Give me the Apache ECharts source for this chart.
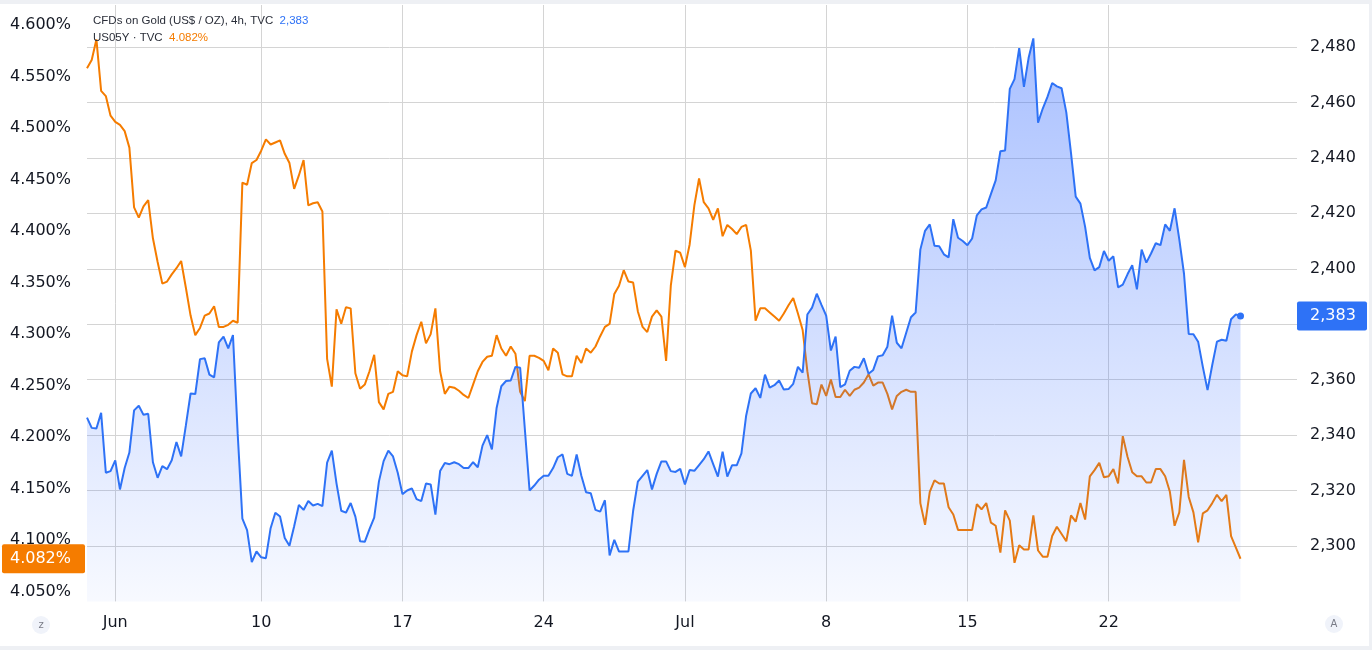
<!DOCTYPE html>
<html lang="en">
<head>
    <meta charset="UTF-8">
    <title>Gold vs US05Y - 4h</title>
    <style>
        html, body { margin: 0; padding: 0; background: #ffffff; }
        #zl_chart_container { width: 1372px; height: 650px; }
    </style>
</head>
<body>
    <div id="zl_chart_container"></div>
</body>
<script src="https://cdn.jsdelivr.net/npm/echarts/dist/echarts.min.js"></script>
<script>
    // 4h bars, index 0 = first bar on the left (Fri 31 May)
    let goldClose = [
        2346.3, 2342.6, 2342.4, 2348.0, 2326.4, 2327.0, 2330.9, 2320.4, 2328.1, 2333.7,
        2348.9, 2350.6, 2347.3, 2347.7, 2330.2, 2324.6, 2328.8, 2327.7, 2330.9, 2337.5,
        2332.3, 2343.5, 2355.0, 2354.8, 2367.4, 2367.7, 2361.8, 2360.8, 2373.4, 2375.5,
        2371.3, 2376.1, 2340.7, 2309.9, 2305.7, 2294.2, 2298.0, 2295.9, 2295.6, 2306.4,
        2312.0, 2310.6, 2302.9, 2300.1, 2307.1, 2314.8, 2313.0, 2316.2, 2314.6, 2315.2,
        2314.4, 2330.1, 2334.4, 2322.5, 2312.7, 2312.0, 2315.5, 2310.6, 2301.7, 2301.5,
        2306.1, 2310.2, 2323.2, 2330.6, 2334.4, 2332.3, 2326.4, 2318.7, 2320.0, 2320.8,
        2316.9, 2316.2, 2322.5, 2322.2, 2311.3, 2327.0, 2329.9, 2329.5, 2330.2, 2329.5,
        2328.1, 2328.1, 2330.2, 2328.4, 2336.2, 2340.0, 2334.8, 2349.8, 2357.6, 2359.5,
        2359.7, 2364.6, 2364.3, 2342.1, 2320.0, 2321.8, 2323.9, 2325.3, 2325.3, 2328.1,
        2332.0, 2333.0, 2326.0, 2325.3, 2333.0, 2325.3, 2319.4, 2319.0, 2313.0, 2312.4,
        2316.5, 2296.6, 2302.2, 2298.0, 2298.0, 2298.0, 2312.7, 2323.2, 2325.3, 2327.4,
        2320.4, 2326.0, 2330.5, 2330.5, 2327.0, 2326.7, 2327.8, 2322.2, 2327.4, 2327.1,
        2329.2, 2331.3, 2334.1, 2329.5, 2325.0, 2334.0, 2325.0, 2329.1, 2329.1, 2333.4,
        2347.0, 2355.0, 2356.9, 2353.4, 2361.8, 2357.1, 2358.0, 2359.7, 2356.4, 2356.6,
        2358.5, 2364.6, 2362.5, 2383.5, 2386.0, 2391.0, 2387.0, 2383.1, 2370.5, 2375.5,
        2357.3, 2358.3, 2363.2, 2364.6, 2364.3, 2367.7, 2362.1, 2363.5, 2368.4, 2368.8,
        2371.9, 2383.1, 2373.3, 2371.3, 2376.9, 2382.5, 2384.2, 2406.9, 2413.7, 2416.0,
        2408.3, 2408.1, 2405.2, 2404.1, 2417.9, 2411.2, 2410.0, 2408.5, 2410.9, 2419.3,
        2421.4, 2422.1, 2427.0, 2431.9, 2442.4, 2442.7, 2464.9, 2468.4, 2479.6, 2465.6,
        2476.1, 2483.1, 2452.7, 2457.8, 2462.0, 2467.0, 2465.8, 2465.1, 2456.4, 2441.7,
        2426.0, 2423.5, 2415.1, 2403.9, 2399.4, 2400.6, 2406.4, 2402.9, 2404.5, 2393.3,
        2394.3, 2398.0, 2401.3, 2392.6, 2406.9, 2402.2, 2405.5, 2409.2, 2408.5, 2416.0,
        2413.7, 2421.8, 2410.6, 2398.2, 2376.5, 2376.4, 2373.7, 2364.6, 2356.2, 2365.3,
        2373.7, 2374.4, 2374.0, 2381.8, 2383.5, 2383.0
    ];

    let us05yClose = [
        4.558, 4.566, 4.586, 4.536, 4.531, 4.512, 4.506, 4.503, 4.497, 4.481,
        4.423, 4.413, 4.424, 4.430, 4.393, 4.370, 4.349, 4.351, 4.358, 4.364,
        4.371, 4.345, 4.318, 4.299, 4.306, 4.318, 4.320, 4.327, 4.307, 4.307,
        4.309, 4.313, 4.311, 4.447, 4.445, 4.466, 4.469, 4.478, 4.489, 4.484,
        4.486, 4.488, 4.475, 4.466, 4.441, 4.454, 4.469, 4.425, 4.427, 4.428,
        4.419, 4.276, 4.249, 4.324, 4.310, 4.326, 4.325, 4.262, 4.247, 4.251,
        4.264, 4.280, 4.234, 4.227, 4.242, 4.244, 4.264, 4.260, 4.259, 4.283,
        4.299, 4.312, 4.291, 4.300, 4.325, 4.264, 4.242, 4.249, 4.248, 4.245,
        4.241, 4.238, 4.251, 4.264, 4.273, 4.278, 4.279, 4.299, 4.286, 4.279,
        4.288, 4.281, 4.244, 4.235, 4.279, 4.279, 4.277, 4.274, 4.265, 4.286,
        4.282, 4.261, 4.259, 4.259, 4.279, 4.272, 4.286, 4.282, 4.288, 4.298,
        4.307, 4.310, 4.339, 4.347, 4.362, 4.351, 4.350, 4.322, 4.307, 4.302,
        4.317, 4.323, 4.317, 4.274, 4.347, 4.381, 4.379, 4.365, 4.387, 4.425,
        4.451, 4.428, 4.422, 4.411, 4.422, 4.395, 4.406, 4.402, 4.397, 4.404,
        4.406, 4.381, 4.313, 4.325, 4.325, 4.321, 4.317, 4.313, 4.320, 4.328,
        4.335, 4.320, 4.304, 4.264, 4.233, 4.232, 4.251, 4.240, 4.256, 4.239,
        4.239, 4.246, 4.240, 4.246, 4.248, 4.253, 4.261, 4.250, 4.253, 4.253,
        4.242, 4.227, 4.240, 4.244, 4.246, 4.244, 4.244, 4.136, 4.115, 4.147,
        4.158, 4.155, 4.155, 4.132, 4.125, 4.110, 4.110, 4.110, 4.110, 4.135,
        4.130, 4.136, 4.117, 4.114, 4.088, 4.129, 4.119, 4.078, 4.095, 4.091,
        4.091, 4.124, 4.090, 4.084, 4.084, 4.104, 4.113, 4.106, 4.099, 4.124,
        4.118, 4.136, 4.120, 4.162, 4.168, 4.175, 4.161, 4.162, 4.169, 4.155,
        4.201, 4.181, 4.166, 4.162, 4.162, 4.156, 4.156, 4.169, 4.169, 4.162,
        4.147, 4.114, 4.127, 4.178, 4.142, 4.127, 4.098, 4.126, 4.129, 4.136,
        4.144, 4.138, 4.144, 4.104, 4.093, 4.082
    ];

    let weekTickIndex = [6, 37, 67, 97, 127, 157, 187, 217];
    let weekTickLabels = ['Jun', '10', '17', '24', 'Jul', '8', '15', '22'];
    let barSlots = 258; // bars that fit the pane, incl. the empty space on the right

    let goldTitle = 'CFDs on Gold (US$ / OZ), 4h, TVC';
    let yieldTitle = 'US05Y \u00b7 TVC';

    const BLUE = '#2e72f6';
    const ORANGE = '#f57c00';
    const TEXT = '#131722';
    const GRID = '#d4d4d4';
    const FONT = '"DejaVu Sans", sans-serif';
    const LEGEND_FONT = '"Liberation Sans", sans-serif';

    let categories = [];
    for (let i = 0; i < barSlots; i++) {
        categories.push(String(i));
    }
    let lastIdx = goldClose.length - 1;

    function fmtGold(v) {
        return Math.round(v).toLocaleString('en-US');
    }
    function fmtYield(v) {
        return v.toFixed(3) + '%';
    }
    function isWeekTick(index) {
        return weekTickIndex.indexOf(index) !== -1;
    }

    let dom = document.getElementById('zl_chart_container');
    let myChart = echarts.init(dom);

    myChart.setOption({
        animation: false,
        backgroundColor: '#ffffff',
        title: {
            left: 93,
            top: 12,
            padding: 0,
            text: goldTitle + '  {g|' + fmtGold(goldClose[lastIdx]) + '}\n' +
                yieldTitle + '  {y|' + fmtYield(us05yClose[lastIdx]) + '}',
            textStyle: {
                fontFamily: LEGEND_FONT,
                fontSize: 11.5,
                fontWeight: 'normal',
                color: '#2a2e39',
                lineHeight: 17,
                rich: {
                    g: { color: BLUE, fontSize: 11.5, fontFamily: LEGEND_FONT, lineHeight: 17 },
                    y: { color: ORANGE, fontSize: 11.5, fontFamily: LEGEND_FONT, lineHeight: 17 }
                }
            }
        },
        grid: {
            left: 87,
            right: 75,
            top: 5,
            bottom: 48.6
        },
        xAxis: {
            type: 'category',
            data: categories,
            boundaryGap: false,
            axisLine: { show: false },
            axisTick: { show: false },
            axisLabel: {
                interval: function (index) { return isWeekTick(index); },
                formatter: function (value, index) {
                    let k = weekTickIndex.indexOf(index);
                    return k === -1 ? '' : weekTickLabels[k];
                },
                color: TEXT,
                fontFamily: FONT,
                fontSize: 16,
                margin: 13.5
            },
            splitLine: {
                show: true,
                interval: function (index) { return isWeekTick(index); },
                lineStyle: { color: GRID, width: 1 }
            }
        },
        yAxis: [
            {
                type: 'value',
                position: 'left',
                min: 4.0406,
                max: 4.61941,
                splitNumber: 11,
                axisLine: { show: false },
                axisTick: { show: false },
                splitLine: { show: false },
                axisLabel: {
                    formatter: fmtYield,
                    showMinLabel: false,
                    showMaxLabel: false,
                    color: TEXT,
                    fontFamily: FONT,
                    fontSize: 16,
                    margin: 16
                }
            },
            {
                type: 'value',
                position: 'right',
                min: 2280,
                max: 2495.15,
                splitNumber: 10,
                axisLine: { show: false },
                axisTick: { show: false },
                splitLine: {
                    show: true,
                    showMinLine: false,
                    showMaxLine: false,
                    lineStyle: { color: GRID, width: 1 }
                },
                axisLabel: {
                    formatter: fmtGold,
                    showMinLabel: false,
                    showMaxLabel: false,
                    color: TEXT,
                    fontFamily: FONT,
                    fontSize: 16,
                    margin: 13
                }
            }
        ],
        series: [
            {
                name: 'US05Y',
                type: 'line',
                yAxisIndex: 0,
                data: us05yClose,
                showSymbol: false,
                silent: true,
                lineStyle: { color: ORANGE, width: 2 },
                z: 2
            },
            {
                name: 'Gold',
                type: 'line',
                yAxisIndex: 1,
                data: goldClose,
                showSymbol: false,
                silent: true,
                lineStyle: { color: BLUE, width: 2 },
                areaStyle: {
                    origin: 'start',
                    color: new echarts.graphic.LinearGradient(0, 0, 0, 1, [
                        { offset: 0, color: 'rgba(41, 98, 255, 0.57)' },
                        { offset: 1, color: 'rgba(41, 98, 255, 0.05)' }
                    ])
                },
                markPoint: {
                    silent: true,
                    symbol: 'circle',
                    symbolSize: 7,
                    label: { show: false },
                    itemStyle: { color: BLUE },
                    data: [{ coord: [categories[lastIdx], goldClose[lastIdx]] }]
                },
                z: 3
            }
        ]
    });

    // last-value tags on both price scales, plus the pane frame
    let goldY = myChart.convertToPixel({ yAxisIndex: 1 }, goldClose[lastIdx]);
    let yieldY = myChart.convertToPixel({ yAxisIndex: 0 }, us05yClose[lastIdx]);

    myChart.setOption({
        graphic: [
            { type: 'rect', z: 100, shape: { x: 0, y: 0, width: 1372, height: 4 }, style: { fill: '#eef0f4' } },
            { type: 'rect', z: 100, shape: { x: 0, y: 646, width: 1372, height: 4 }, style: { fill: '#eef0f4' } },
            { type: 'rect', z: 100, shape: { x: 1369, y: 0, width: 3, height: 650 }, style: { fill: '#eef0f4' } },
            {
                type: 'rect', z: 100,
                shape: { x: 2, y: yieldY - 14.5, width: 83, height: 29, r: 2 },
                style: { fill: ORANGE }
            },
            {
                type: 'text', z: 101,
                style: {
                    text: fmtYield(us05yClose[lastIdx]),
                    x: 71, y: yieldY,
                    textAlign: 'right', textVerticalAlign: 'middle',
                    fill: '#ffffff', font: '16px ' + FONT
                }
            },
            {
                type: 'rect', z: 100,
                shape: { x: 1297, y: goldY - 14.5, width: 70, height: 29, r: 2 },
                style: { fill: BLUE }
            },
            {
                type: 'text', z: 101,
                style: {
                    text: fmtGold(goldClose[lastIdx]),
                    x: 1310, y: goldY,
                    textAlign: 'left', textVerticalAlign: 'middle',
                    fill: '#ffffff', font: '16px ' + FONT
                }
            },
            { type: 'circle', z: 100, shape: { cx: 41, cy: 625, r: 9 }, style: { fill: '#f0f3fa' } },
            {
                type: 'text', z: 101,
                style: { text: 'z', x: 41, y: 625, textAlign: 'center', textVerticalAlign: 'middle', fill: '#787b86', font: '10px ' + FONT }
            },
            { type: 'circle', z: 100, shape: { cx: 1334, cy: 624, r: 9 }, style: { fill: '#f0f3fa' } },
            {
                type: 'text', z: 101,
                style: { text: 'A', x: 1334, y: 624, textAlign: 'center', textVerticalAlign: 'middle', fill: '#787b86', font: '10px ' + FONT }
            }
        ]
    });
</script>
</html>
